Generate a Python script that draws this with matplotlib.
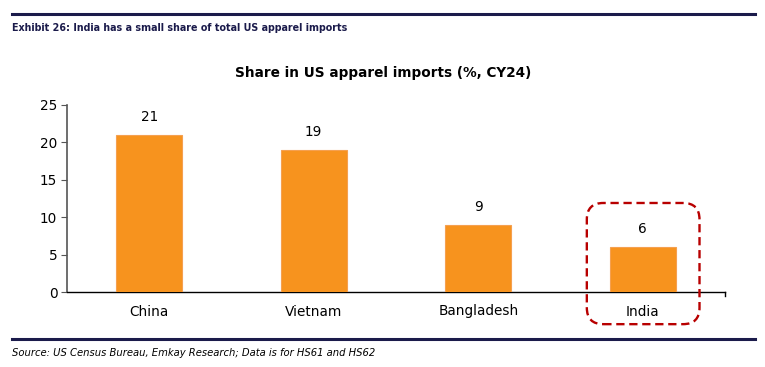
"""
Share in US apparel imports, CY24 (Exhibit 26).
Saves to out.png
"""

import matplotlib.pyplot as plt
from matplotlib.patches import FancyBboxPatch
from matplotlib.lines import Line2D

countries = ["China", "Vietnam", "Bangladesh", "India"]
share_pct = [21, 19, 9, 6]
y_ticks = [0, 5, 10, 15, 20, 25]

NAVY   = "#1b1b4b"
ORANGE = "#F7931E"
RED    = "#B80000"

fig = plt.figure(figsize=(7.65, 3.67), dpi=100)
fig.patch.set_facecolor("white")

# header / footer rules
fig.add_artist(Line2D([12/765, 755/765], [1 - 14/367, 1 - 14/367], color=NAVY, lw=2.2))
fig.add_artist(Line2D([12/765, 755/765], [1 - 339/367, 1 - 339/367], color=NAVY, lw=2.2))

fig.text(12/765, 1 - 28/367, "Exhibit 26: India has a small share of total US apparel imports",
         fontsize=7.7, fontweight="bold", color=NAVY, va="center", ha="left",
         fontstretch="condensed")
fig.text(12/765, 1 - 353/367, "Source: US Census Bureau, Emkay Research; Data is for HS61 and HS62",
         fontsize=8, style="italic", color="black", va="center", ha="left",
         fontstretch="condensed")
fig.text(383/765, 1 - 73/367, "Share in US apparel imports (%, CY24)",
         fontsize=9.8, fontweight="bold", ha="center", va="center")

ax = fig.add_axes([67/765, 1 - 292/367, (725 - 67)/765, (292 - 105)/367])

x = range(len(countries))
ax.bar(x, share_pct, width=0.4, color=ORANGE, edgecolor="#F5A050", linewidth=0.8, zorder=3)
for xi, v in zip(x, share_pct):
    ax.annotate(str(v), xy=(xi, v), xytext=(0, 8), textcoords="offset points",
                ha="center", va="bottom", fontsize=9.8)

ax.set_xlim(-0.5, len(countries) - 0.5)
ax.set_ylim(0, 25)
ax.set_yticks(y_ticks)
ax.tick_params(axis="y", labelsize=9.8, length=4, color="#555555", pad=3)
ax.set_xticks(list(x))
ax.set_xticklabels(countries, fontsize=9.8)
ax.tick_params(axis="x", length=0, pad=9)

for side in ("top", "right"):
    ax.spines[side].set_visible(False)
ax.spines["left"].set_color("#555555")
ax.spines["left"].set_linewidth(1.2)
ax.spines["bottom"].set_color("black")
ax.spines["bottom"].set_linewidth(1.0)
# small end tick on the right of the x axis
ax.plot([len(countries) - 0.5] * 2, [0, -0.6], color="black", lw=1, clip_on=False)

# dashed highlight box around India
box = FancyBboxPatch((2.66, -4.3), 0.685, 16.2,
                     boxstyle="round,pad=0,rounding_size=0.1",
                     mutation_aspect=22,
                     fill=False, edgecolor=RED, linestyle=(0, (3.5, 2)), linewidth=1.7,
                     clip_on=False, zorder=4)
ax.add_patch(box)

plt.savefig("out.png", dpi=100, facecolor="white")
